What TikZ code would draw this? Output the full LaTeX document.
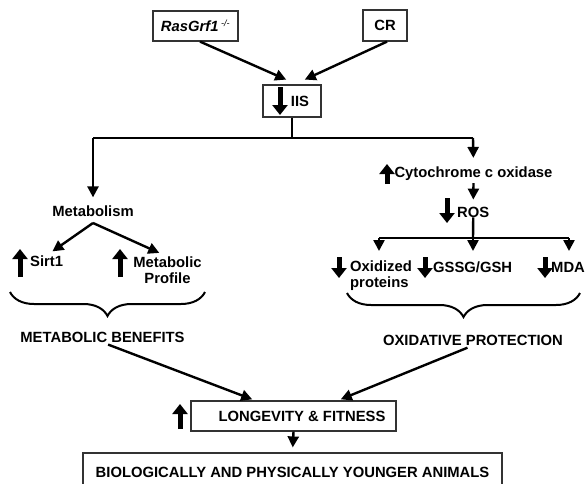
\documentclass[tikz,border=0pt]{standalone}
\usepackage{fontspec}
\setmainfont{Liberation Sans}
\usetikzlibrary{arrows.meta,decorations.pathreplacing}
\begin{document}
\begin{tikzpicture}[x=1pt,y=-1pt,
  lbl/.style={font=\bfseries\fontsize{14.8}{16.5}\selectfont, inner sep=0pt},
  box/.style={lbl, draw=black!80, line width=1.2pt},
  plain/.style={line width=2.4pt},
  conn/.style={line width=2.4pt, -{Triangle[length=11pt,width=11pt]}},
  blk/.style={line width=5pt, -{Triangle[length=10pt,width=15pt]}},
  brc/.style={decorate, decoration={brace,amplitude=24pt,mirror}, line width=2pt}]
\useasboundingbox (0,0) rectangle (585,483);

% top boxes
\node[box, minimum width=85pt, minimum height=30pt] (ras) at (195.5,26)
  {\textit{RasGrf1}\,\textsuperscript{\normalfont\itshape\fontsize{9}{9}\selectfont -/-}};
\node[box, minimum width=44pt, minimum height=31pt] (cr) at (385,25.5) {CR};
\node[box, minimum width=58pt, minimum height=32pt] (iis) at (292,101) {\hspace{16pt}IIS};
\draw[blk] (280,87) -- (280,115);

\draw[conn, shorten >=2pt] ([xshift=4.5pt]ras.south) -- ([xshift=-4pt,yshift=4pt]iis.north);
\draw[conn, shorten >=2pt] ([xshift=2pt]cr.south) -- ([xshift=11pt,yshift=4pt]iis.north);

% bus
\coordinate (jc) at (292,138);
\coordinate (jl) at (93,138);
\coordinate (jr) at (473,138);
\draw[plain] (iis.south) -- (jc);
\draw[plain] (jl) -- (jr);

% left branch
\node[lbl] (metab) at (93,211) {Metabolism};
\draw[conn, shorten >=8pt] (jl) -- (metab.north);
\coordinate (mapex) at (93,223);
\node[lbl, anchor=west] (sirt) at (30,261) {Sirt1};
\node[lbl, align=center] (metprof) at (167.5,270) {Metabolic\\[-1pt]Profile};
\draw[blk] (20,277) -- (20,249);
\draw[blk] (120,277) -- (120,249);
\draw[conn, shorten >=7pt] (mapex) -- (sirt.north);
\draw[conn, shorten >=9pt] (mapex) -- (metprof.north);
\draw[brc] (10,292) -- (205,292);
\node[lbl] (metben) at (102.5,337) {METABOLIC BENEFITS};

% right branch
\node[lbl] (cyto) at (473.5,174) {Cytochrome c oxidase};
\draw[blk] (387,184) -- (387,164);
\draw[conn, shorten >=9pt] (jr) -- (cyto.north);
\node[lbl, anchor=west] (ros) at (457,212) {ROS};
\draw[blk] (447,198) -- (447,223);
\draw[conn, shorten >=7pt, shorten <=2pt] (cyto.south) -- (ros.north);
\coordinate (rb) at (473,238);
\coordinate (rl) at (379,238);
\coordinate (rr) at (569,238);
\draw[plain] (ros.south) -- (rb);
\draw[plain] (rl) -- (rr);
\node[lbl, anchor=west, align=left] (oxid) at (350,275.5) {Oxidized\\[-1pt]proteins};
\node[lbl, anchor=west] (gssg) at (433,267) {GSSG/GSH};
\node[lbl, anchor=west] (mda) at (551,267) {MDA};
\draw[conn] (rl) -- (379,251);
\draw[conn] (rb) -- (473,251);
\draw[conn] (rr) -- (569,251);
\draw[blk] (339,257) -- (339,278);
\draw[blk] (425,257) -- (425,278);
\draw[blk] (545,257) -- (545,278);
\draw[brc] (347,293) -- (580,293);
\node[lbl] (oxprot) at (473,340) {OXIDATIVE PROTECTION};

% bottom
\node[box, minimum width=205pt, minimum height=30pt] (long) at (293.5,416) {\hspace{17pt}LONGEVITY \& FITNESS};
\draw[blk] (180,429) -- (180,404);
\draw[conn, shorten >=3pt, shorten <=6pt] (metben.south) -- ([xshift=-38.5pt]long.north);
\draw[conn, shorten >=3pt, shorten <=6pt] (oxprot.south) -- ([xshift=44.5pt]long.north);
\node[box, minimum width=419pt, minimum height=38pt] (young) at (292.5,472) {BIOLOGICALLY AND PHYSICALLY YOUNGER ANIMALS};
\draw[conn, shorten >=5pt] (long.south) -- (young.north);
\end{tikzpicture}
\end{document}
